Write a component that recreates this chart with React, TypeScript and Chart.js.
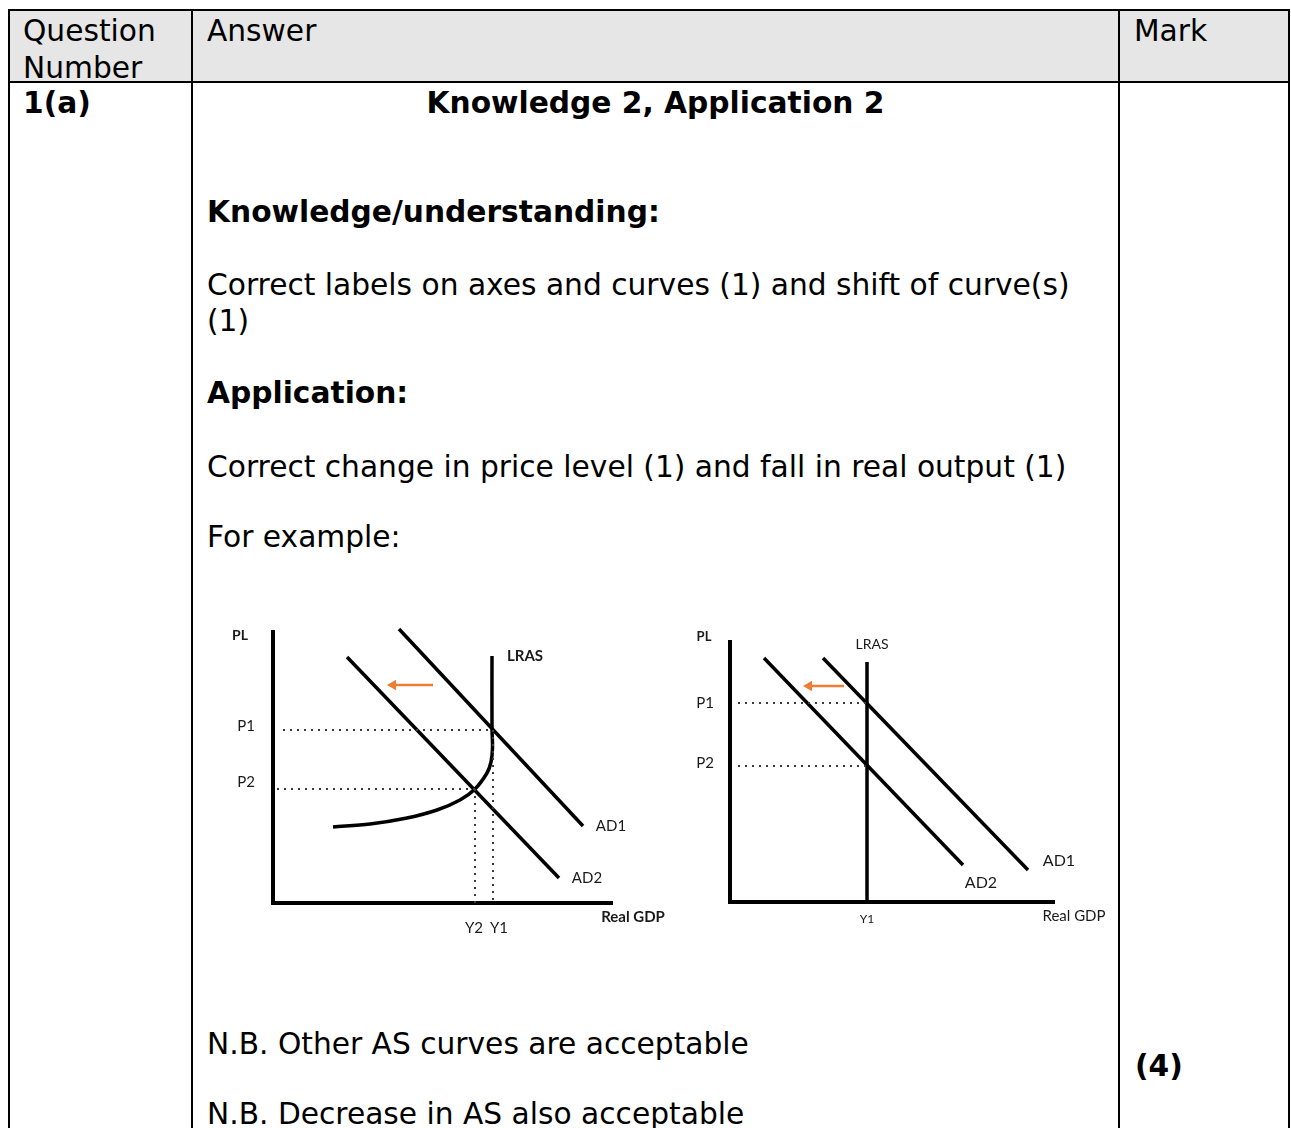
import React, { useEffect, useRef } from "react";
import { Chart, registerables } from "chart.js";

Chart.register(...registerables);

// ---------- Diagram 1 data (x: output from origin, y: price level from origin) ----------
const d1Axes = [
  { x: 0, y: 273 },
  { x: 0, y: 0 },
  { x: 340, y: 0 },
];
const d1AD1 = [
  { x: 126, y: 274 },
  { x: 310, y: 77 },
];
const d1AD2 = [
  { x: 74, y: 246 },
  { x: 286, y: 25 },
];
const d1AS = [
  { x: 219, y: 247 },
  { x: 219, y: 175 },
  { x: 219.5, y: 155 },
  { x: 218, y: 141 },
  { x: 214, y: 130 },
  { x: 202, y: 114 },
  { x: 187, y: 103 },
  { x: 164, y: 93 },
  { x: 134, y: 85 },
  { x: 97, y: 79 },
  { x: 60, y: 76 },
];
const d1P1 = [
  { x: 10, y: 173 },
  { x: 219, y: 173 },
];
const d1P2 = [
  { x: 4, y: 114 },
  { x: 202, y: 114 },
];
const d1Y1 = [
  { x: 220, y: 173 },
  { x: 220, y: 0 },
];
const d1Y2 = [
  { x: 202, y: 114 },
  { x: 202, y: 0 },
];
const d1Shift = [
  { x: 160, y: 218 },
  { x: 120, y: 218 },
];
const d1LabelText = ["PL", "LRAS", "P1", "P2", "AD1", "AD2", "Real GDP", "Y2", "Y1"];
const d1LabelAt = [
  { x: -33, y: 268 },
  { x: 252, y: 247 },
  { x: -27, y: 177 },
  { x: -27, y: 121 },
  { x: 338, y: 77 },
  { x: 314, y: 25 },
  { x: 360, y: -14 },
  { x: 201, y: -25 },
  { x: 226, y: -25 },
];

// ---------- Diagram 2 data ----------
const d2Axes = [
  { x: 0, y: 262 },
  { x: 0, y: 0 },
  { x: 325, y: 0 },
];
const d2LRAS = [
  { x: 137, y: 240 },
  { x: 137, y: 0 },
];
const d2AD1 = [
  { x: 93, y: 244 },
  { x: 298, y: 32 },
];
const d2AD2 = [
  { x: 34, y: 244 },
  { x: 233, y: 37 },
];
const d2P1 = [
  { x: 8, y: 199 },
  { x: 137, y: 199 },
];
const d2P2 = [
  { x: 8, y: 136 },
  { x: 137, y: 136 },
];
const d2Shift = [
  { x: 114, y: 216 },
  { x: 79, y: 216 },
];
const d2LabelText = ["PL", "LRAS", "P1", "P2", "AD1", "AD2", "Real GDP", "Y1"];
const d2LabelAt = [
  { x: -26, y: 265 },
  { x: 142, y: 258 },
  { x: -25, y: 199 },
  { x: -25, y: 139 },
  { x: 329, y: 41 },
  { x: 251, y: 19 },
  { x: 344, y: -14 },
  { x: 137, y: -17 },
];

// ---------- styles ----------
const INK = "#000000";
const DOT = "#3a3a3a";
const ORANGE = "#ED7D31";
const LABEL_FONT = 'Lato, "Open Sans", sans-serif';
const d1LabelFonts = [
  `bold 14px ${LABEL_FONT}`,
  `bold 15px ${LABEL_FONT}`,
  `15px ${LABEL_FONT}`,
  `15px ${LABEL_FONT}`,
  `15px ${LABEL_FONT}`,
  `15px ${LABEL_FONT}`,
  `bold 15px ${LABEL_FONT}`,
  `15px ${LABEL_FONT}`,
  `15px ${LABEL_FONT}`,
];
const d2LabelFonts = [
  `bold 13px ${LABEL_FONT}`,
  `14px ${LABEL_FONT}`,
  `15px ${LABEL_FONT}`,
  `15px ${LABEL_FONT}`,
  `16px ${LABEL_FONT}`,
  `16px ${LABEL_FONT}`,
  `15px ${LABEL_FONT}`,
  `12px ${LABEL_FONT}`,
];

function line(data: any[], color: string, width: number, extra: any = {}) {
  return {
    data,
    showLine: true,
    borderColor: color,
    backgroundColor: color,
    borderWidth: width,
    pointRadius: 0,
    pointHoverRadius: 0,
    fill: false,
    clip: false,
    ...extra,
  };
}

function arrow(data: any[]) {
  return line(data, ORANGE, 2.5, {
    pointRadius: [0, 6],
    pointStyle: "triangle",
    rotation: -90,
    pointBackgroundColor: ORANGE,
    pointBorderColor: ORANGE,
    pointBorderWidth: 0,
  });
}

function labelPlugin(texts: string[], at: { x: number; y: number }[], fonts: string[], color: string) {
  return {
    id: "diagramLabels",
    afterDatasetsDraw(chart: any) {
      const { ctx, scales } = chart;
      ctx.save();
      ctx.fillStyle = color;
      ctx.textAlign = "center";
      ctx.textBaseline = "middle";
      texts.forEach((t, i) => {
        ctx.font = fonts[i];
        ctx.fillText(t, scales.x.getPixelForValue(at[i].x), scales.y.getPixelForValue(at[i].y));
      });
      ctx.restore();
    },
  };
}

type DiagramProps = {
  left: number;
  top: number;
  width: number;
  height: number;
  xMin: number;
  yMin: number;
  datasets: any[];
  plugin: any;
};

function Diagram({ left, top, width, height, xMin, yMin, datasets, plugin }: DiagramProps) {
  const ref = useRef<HTMLCanvasElement | null>(null);
  useEffect(() => {
    if (!ref.current) return;
    const chart = new Chart(ref.current, {
      type: "scatter",
      data: { datasets },
      options: {
        animation: false,
        responsive: false,
        maintainAspectRatio: false,
        events: [],
        layout: { padding: 0, autoPadding: false },
        plugins: { legend: { display: false }, tooltip: { enabled: false } },
        scales: {
          x: { type: "linear", display: false, bounds: "data", grace: 0, min: xMin, max: xMin + width },
          y: { type: "linear", display: false, bounds: "data", grace: 0, min: yMin, max: yMin + height },
        },
      },
      plugins: [plugin],
    } as any);
    return () => chart.destroy();
  }, []);
  return (
    <canvas
      ref={ref}
      width={width}
      height={height}
      style={{ position: "absolute", left, top, width, height }}
    />
  );
}

const TEXT_FONT = '"DejaVu Sans", Verdana, sans-serif';
const SIZE = 29.7;

function T({ x, base, bold, children, center }: any) {
  const style: any = {
    position: "absolute",
    top: base - SIZE * 0.846,
    fontFamily: TEXT_FONT,
    fontSize: SIZE,
    lineHeight: `${SIZE}px`,
    fontWeight: bold ? "bold" : "normal",
    whiteSpace: "nowrap",
    color: "#000",
  };
  if (center) {
    style.left = center[0];
    style.width = center[1] - center[0];
    style.textAlign = "center";
  } else {
    style.left = x;
  }
  return <div style={style}>{children}</div>;
}

function Rule({ l, t, w, h }: any) {
  return <div style={{ position: "absolute", left: l, top: t, width: w, height: h, background: "#000" }} />;
}

export default function App() {
  const d1Sets = [
    line(d1P1, DOT, 2, { borderDash: [2, 5] }),
    line(d1P2, DOT, 2, { borderDash: [2, 5] }),
    line(d1Y1, DOT, 2, { borderDash: [2, 5] }),
    line(d1Y2, DOT, 2, { borderDash: [2, 5] }),
    line(d1Axes, INK, 4, { borderJoinStyle: "miter" }),
    line(d1AD1, INK, 3.5),
    line(d1AD2, INK, 3.5),
    line(d1AS, INK, 3.5, { tension: 0.35 }),
    arrow(d1Shift),
  ];
  const d2Sets = [
    line(d2P1, DOT, 2, { borderDash: [2, 5] }),
    line(d2P2, DOT, 2, { borderDash: [2, 5] }),
    line(d2Axes, INK, 4, { borderJoinStyle: "miter" }),
    line(d2LRAS, INK, 3.5),
    line(d2AD1, INK, 3.5),
    line(d2AD2, INK, 3.5),
    arrow(d2Shift),
  ];

  return (
    <div
      style={{
        position: "absolute",
        left: 0,
        top: 0,
        width: 1291,
        height: 1128,
        overflow: "hidden",
        background: "#fff",
      }}
    >
      {/* header background */}
      <div style={{ position: "absolute", left: 10, top: 11, width: 1278, height: 70, background: "#e6e6e6" }} />
      {/* table rules */}
      <Rule l={8} t={9} w={1282} h={2} />
      <Rule l={8} t={81} w={1282} h={2} />
      <Rule l={8} t={9} w={2} h={1130} />
      <Rule l={191} t={9} w={2} h={1130} />
      <Rule l={1118} t={9} w={2} h={1130} />
      <Rule l={1288} t={9} w={2} h={1130} />

      <T x={23} base={41}>Question</T>
      <T x={23} base={78}>Number</T>
      <T x={207} base={41}>Answer</T>
      <T x={1134} base={41}>Mark</T>

      <T x={23} base={113} bold>1(a)</T>
      <T center={[193, 1118]} base={113} bold>Knowledge 2, Application 2</T>

      <T x={207} base={222.5} bold>Knowledge/understanding:</T>
      <T x={207} base={295.5}>Correct labels on axes and curves (1) and shift of curve(s)</T>
      <T x={207} base={331.5}>(1)</T>
      <T x={207} base={403.5} bold>Application:</T>
      <T x={207} base={477.5}>Correct change in price level (1) and fall in real output (1)</T>
      <T x={207} base={547.5}>For example:</T>

      <Diagram
        left={220}
        top={615}
        width={460}
        height={330}
        xMin={-53}
        yMin={-42}
        datasets={d1Sets}
        plugin={labelPlugin(d1LabelText, d1LabelAt, d1LabelFonts, "#1a1a1a")}
      />
      <Diagram
        left={685}
        top={615}
        width={430}
        height={320}
        xMin={-45}
        yMin={-33}
        datasets={d2Sets}
        plugin={labelPlugin(d2LabelText, d2LabelAt, d2LabelFonts, "#1a1a1a")}
      />

      <T x={207} base={1054.5}>N.B. Other AS curves are acceptable</T>
      <T x={1135} base={1076} bold>(4)</T>
      <T x={207} base={1124.5}>N.B. Decrease in AS also acceptable</T>
    </div>
  );
}
